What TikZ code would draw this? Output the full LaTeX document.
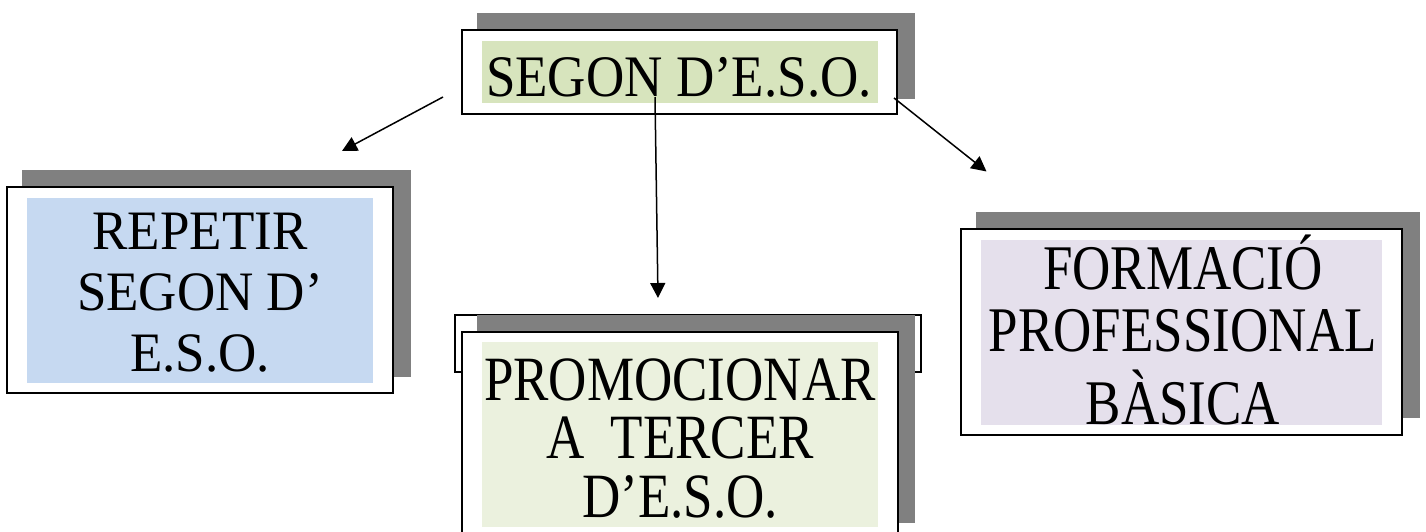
\documentclass[tikz,border=0pt]{standalone}
\usepackage{fontspec}
\setmainfont{Liberation Serif}
\usepackage{graphicx}
\usetikzlibrary{arrows.meta}
\definecolor{shadowgray}{HTML}{808080}
\definecolor{olivefill}{HTML}{D7E4BD}
\definecolor{palegreen}{HTML}{EBF1DE}
\definecolor{paleblue}{HTML}{C6D9F1}
\definecolor{palelilac}{HTML}{E5E0EC}
\newcommand{\boxtext}[3]{\scalebox{1}[#1]{\fontsize{53}{#2}\selectfont\begin{tabular}{@{}c@{}}#3\end{tabular}}}
\tikzset{
  shadowbox/.style={fill=shadowgray, draw=none},
  mainbox/.style={draw=black, fill=white, line width=2pt},
  backbox/.style={draw=black, fill=white, line width=1.6pt},
  textlabel/.style={inner sep=0pt, outer sep=0pt},
  conn/.style={line width=1.5pt, -{Triangle[length=15pt,width=15pt]}}
}
\begin{document}
\begin{tikzpicture}[x=1pt,y=-1pt]
\clip (0,0) rectangle (1426,531);
\fill[white] (0,0) rectangle (1426,531);

% ---- top box: SEGON D'E.S.O.
\fill[shadowbox] (477,13) rectangle (915,99);
\draw[mainbox] (462,30) rectangle (897,114);
\fill[olivefill] (482,41) rectangle (878,103);
\node[textlabel] (top) at (679,83.2) {\boxtext{1.11}{61}{SEGON D’E.S.O.}};

% ---- left box: REPETIR
\fill[shadowbox] (22,170) rectangle (411,377);
\draw[mainbox] (7,187) rectangle (393,393);
\fill[paleblue] (27,198) rectangle (373,383);
\node[textlabel] (left) at (200,298.6) {\boxtext{1.05}{58}{REPETIR\\SEGON D’\\E.S.O.}};

% ---- middle box: PROMOCIONAR
\draw[backbox] (455,315) rectangle (921,372);
\fill[shadowbox] (477,315) rectangle (915,523);
\draw[mainbox] (462,332) rectangle (898,545);
\fill[palegreen] (482,342) rectangle (878,527);
\node[textlabel] (mid) at (680,446.6) {\boxtext{1.19}{47.2}{PROMOCIONAR\\A~ TERCER\\D’E.S.O.}};

% ---- right box: FORMACIO
\fill[shadowbox] (976,212) rectangle (1420,418);
\draw[mainbox] (961,229) rectangle (1402,434.5);
\fill[palelilac] (981,240) rectangle (1382,424.5);
\node[textlabel] (right) at (1183,338.9) {\boxtext{1.2}{51.7}{FORMACIÓ\\PROFESSIONAL\\BÀSICA}};

% ---- connectors
\coordinate (s1) at (443,97);
\coordinate (t1) at (342,151);
\coordinate (s2) at (655,97);
\coordinate (t2) at (658,298);
\coordinate (s3) at (894,98);
\coordinate (t3) at (986.5,171.5);
\draw[conn] (s1) -- (t1);
\draw[conn] (s2) -- (t2);
\draw[conn] (s3) -- (t3);
\end{tikzpicture}
\end{document}
